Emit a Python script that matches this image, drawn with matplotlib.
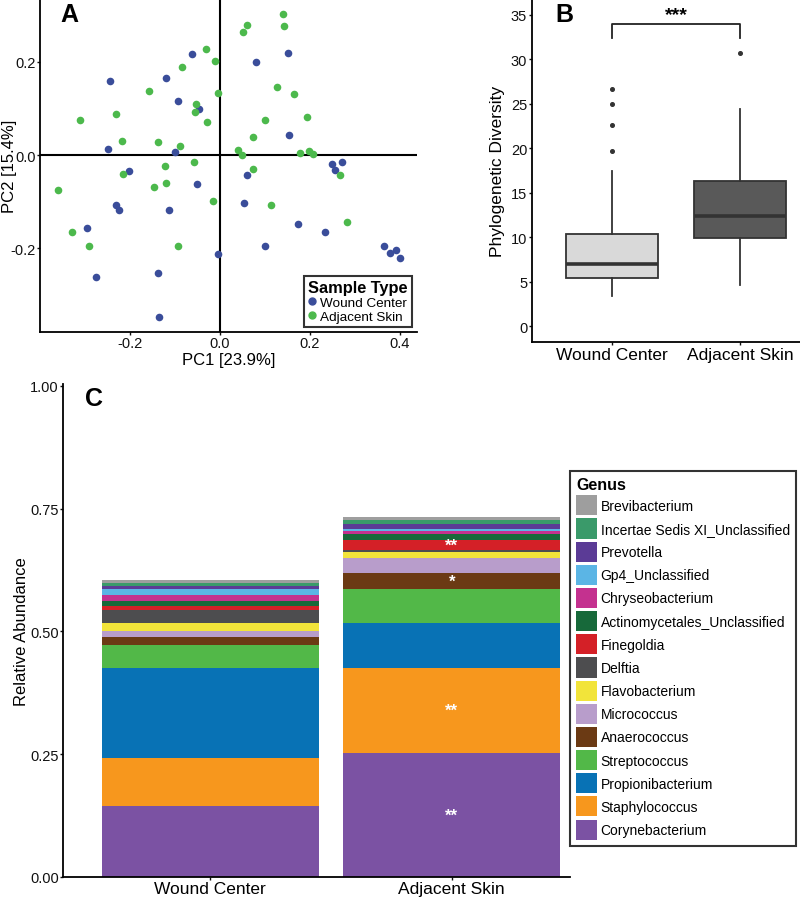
import matplotlib
matplotlib.use("Agg")
import matplotlib.pyplot as plt
from matplotlib.patches import Patch
from matplotlib.lines import Line2D

plt.rcParams['font.family'] = ['Liberation Sans', 'DejaVu Sans']

# ---- panel A: PCoA scores ----
wound_pc1 = [-0.244, -0.249, -0.120, -0.093, -0.062, -0.047, -0.100, 0.151, 0.080, 0.153,
             -0.202, -0.051, -0.231, -0.224, -0.113, -0.296, -0.004, -0.276, -0.138, 0.249,
             0.271, 0.256, 0.060, 0.053, 0.173, 0.233, 0.100, 0.364, 0.378, 0.391, 0.400, -0.136]
wound_pc2 = [0.160, 0.013, 0.166, 0.115, 0.216, 0.099, 0.006, 0.218, 0.199, 0.043,
             -0.035, -0.063, -0.108, -0.119, -0.119, -0.156, -0.212, -0.262, -0.253, -0.019,
             -0.015, -0.032, -0.043, -0.102, -0.149, -0.166, -0.195, -0.195, -0.210, -0.205, -0.221, -0.348]
skin_pc1 = [-0.311, -0.231, -0.218, -0.158, -0.138, -0.084, -0.031, -0.011, -0.004, -0.053,
            -0.056, -0.029, -0.089, 0.140, 0.060, 0.142, 0.051, 0.127, 0.164, 0.100,
            0.193, 0.073, 0.040, 0.049, 0.178, 0.198, 0.207, -0.122, -0.058, -0.216,
            -0.360, -0.147, -0.120, -0.016, -0.329, -0.291, -0.093, 0.267, 0.073, 0.113, 0.282]
skin_pc2 = [0.076, 0.089, 0.030, 0.138, 0.028, 0.190, 0.227, 0.201, 0.134, 0.110,
            0.093, 0.071, 0.019, 0.303, 0.279, 0.277, 0.264, 0.145, 0.130, 0.076,
            0.082, 0.039, 0.011, 0.000, 0.004, 0.009, 0.002, -0.024, -0.015, -0.041,
            -0.076, -0.069, -0.061, -0.099, -0.166, -0.195, -0.195, -0.043, -0.030, -0.108, -0.143]

# ---- panel B: phylogenetic diversity box stats ----
groups = ["Wound Center", "Adjacent Skin"]
pd_stats = [
    dict(whislo=3.45, q1=5.44, med=7.0, q3=10.35, whishi=17.4, fliers=[19.7, 22.6, 25.0, 26.7]),
    dict(whislo=4.65, q1=9.9, med=12.4, q3=16.3, whishi=24.4, fliers=[30.7]),
]
box_colors = ["#d9d9d9", "#595959"]
bracket_y = 33.9
bracket_label = "***"

# ---- panel C: relative abundance (bottom to top) ----
genera = ["Corynebacterium", "Staphylococcus", "Propionibacterium", "Streptococcus",
          "Anaerococcus", "Micrococcus", "Flavobacterium", "Delftia", "Finegoldia",
          "Actinomycetales_Unclassified", "Chryseobacterium", "Gp4_Unclassified",
          "Prevotella", "Incertae Sedis XI_Unclassified", "Brevibacterium"]
genus_colors = ["#7b52a3", "#f7971d", "#0872b5", "#52b848", "#6b3a14", "#b89dcb",
                "#f2e43a", "#4d4d4f", "#d42027", "#17693a", "#c4318f", "#5bb5e5",
                "#5b3b96", "#3a9a6a", "#9e9e9e"]
wound_abund = [0.145, 0.098, 0.182, 0.047, 0.017, 0.012, 0.017, 0.025, 0.008,
               0.011, 0.013, 0.011, 0.006, 0.006, 0.007]
skin_abund = [0.253, 0.172, 0.092, 0.069, 0.034, 0.029, 0.013, 0.004, 0.021,
              0.012, 0.005, 0.004, 0.010, 0.009, 0.007]
skin_stars = {"Corynebacterium": "**", "Staphylococcus": "**",
              "Anaerococcus": "*", "Finegoldia": "**"}


def rect(l, t, r, b):
    return [l / 800, 1 - b / 920, (r - l) / 800, (b - t) / 920]


def style(ax, pad=1.0):
    for s in ["top", "right"]:
        ax.spines[s].set_visible(False)
    for s in ["left", "bottom"]:
        ax.spines[s].set_linewidth(1.3)
    ax.tick_params(length=2.5, width=1, labelsize=10.5, colors="#111", pad=pad)


fig = plt.figure(figsize=(8, 9.2), dpi=100)

# A
axA = fig.add_axes(rect(40, 0, 417, 333))
style(axA, pad=0.5)
blue, green = "#3a4d9a", "#4cb94c"
axA.axhline(0, color="black", lw=1.5, zorder=1)
axA.axvline(0, color="black", lw=1.5, zorder=1)
axA.scatter(wound_pc1, wound_pc2, s=30, color=blue, zorder=3, linewidths=0)
axA.scatter(skin_pc1, skin_pc2, s=30, color=green, zorder=3, linewidths=0)
axA.set_xlim(-0.4, 0.438)
axA.set_ylim(-0.38, 0.335)
axA.set_xticks([-0.2, 0.0, 0.2, 0.4])
axA.set_yticks([-0.2, 0.0, 0.2])
axA.set_xticklabels(["-0.2", "0.0", "0.2", "0.4"])
axA.set_yticklabels(["-0.2", "0.0", "0.2"])
axA.set_xlabel("PC1 [23.9%]", fontsize=12, labelpad=1)
axA.set_ylabel("PC2 [15.4%]", fontsize=12)
axA.yaxis.set_label_coords((17 - 40) / 377, 0.5)
axA.text(0.053, 0.99, "A", transform=axA.transAxes, fontsize=18, fontweight="bold", va="top")
hA = [Line2D([], [], ls="", marker="o", ms=5, color=blue),
      Line2D([], [], ls="", marker="o", ms=5, color=green)]
legA = axA.legend(hA, ["Wound Center", "Adjacent Skin"], title="Sample Type",
                  loc="upper left", bbox_to_anchor=(304 / 800, 1 - 277 / 920),
                  bbox_transform=fig.transFigure, fontsize=9.7, frameon=True, fancybox=False,
                  handlelength=0.6, handletextpad=0.3, borderpad=0.3, labelspacing=0.1,
                  borderaxespad=0, title_fontproperties={"weight": "bold", "size": 11.8})
legA.get_frame().set_edgecolor("black")
legA.get_frame().set_linewidth(1.5)
legA._legend_box.align = "left"

# B
axB = fig.add_axes(rect(532, 0, 800, 343))
style(axB)
stats = []
for g, st in zip(groups, pd_stats):
    d = dict(st)
    d["label"] = g
    stats.append(d)
bp = axB.bxp(stats, positions=[1, 2], widths=0.72, patch_artist=True,
             boxprops=dict(edgecolor="#333", linewidth=1.3),
             whiskerprops=dict(color="#333", linewidth=1.3),
             capprops=dict(linewidth=0),
             medianprops=dict(color="#333", linewidth=2.6),
             flierprops=dict(marker="o", markersize=2.6, markerfacecolor="#333",
                             markeredgecolor="#333"))
for patch, c in zip(bp["boxes"], box_colors):
    patch.set_facecolor(c)
axB.plot([1, 1, 2, 2], [bracket_y - 1.5, bracket_y, bracket_y, bracket_y - 1.5],
         color="#222", lw=1.3)
axB.text(1.5, bracket_y + 0.1, bracket_label, ha="center", va="bottom", fontsize=14,
         fontweight="bold")
axB.set_xlim(0.375, 2.47)
axB.set_ylim(-1.75, 36.75)
axB.set_yticks([0, 5, 10, 15, 20, 25, 30, 35])
axB.set_xticks([1, 2])
axB.set_xticklabels(groups, fontsize=12.5, color="black")
axB.set_ylabel("Phylogenetic Diversity", fontsize=12.5, labelpad=4)
axB.text(0.086, 0.99, "B", transform=axB.transAxes, fontsize=18, fontweight="bold", va="top")

# C
axC = fig.add_axes(rect(63, 385, 570, 878))
style(axC, pad=0.5)
bottoms = [0.0, 0.0]
for i, g in enumerate(genera):
    vals = [wound_abund[i], skin_abund[i]]
    axC.bar([1, 2], vals, width=0.9, bottom=bottoms, color=genus_colors[i], linewidth=0)
    if g in skin_stars:
        axC.text(2, bottoms[1] + vals[1] / 2, skin_stars[g], ha="center", va="center",
                 color="white", fontsize=12, fontweight="bold")
    bottoms = [bottoms[0] + vals[0], bottoms[1] + vals[1]]
axC.set_xlim(0.39, 2.49)
axC.set_ylim(0, 1.004)
axC.set_yticks([0, 0.25, 0.5, 0.75, 1.0])
axC.set_yticklabels(["0.00", "0.25", "0.50", "0.75", "1.00"])
axC.set_xticks([1, 2])
axC.set_xticklabels(groups, fontsize=12.5, color="black")
axC.set_ylabel("Relative Abundance", fontsize=12)
axC.yaxis.set_label_coords((29 - 63) / 507, 0.5)
axC.text(0.043, 0.995, "C", transform=axC.transAxes, fontsize=18, fontweight="bold", va="top")
hC = [Patch(facecolor=c, edgecolor="none") for c in genus_colors][::-1]
legC = axC.legend(hC, genera[::-1], title="Genus", loc="upper left",
                  bbox_to_anchor=(570 / 800, 1 - 472 / 920), bbox_transform=fig.transFigure,
                  fontsize=10, frameon=True, fancybox=False, handlelength=1.5,
                  handleheight=1.85, handletextpad=0.25, labelspacing=0.22, borderpad=0.45,
                  borderaxespad=0, title_fontproperties={"weight": "bold", "size": 11.5})
legC.get_frame().set_edgecolor("black")
legC.get_frame().set_linewidth(1.5)
legC._legend_box.align = "left"

fig.savefig("out.png", dpi=100)
